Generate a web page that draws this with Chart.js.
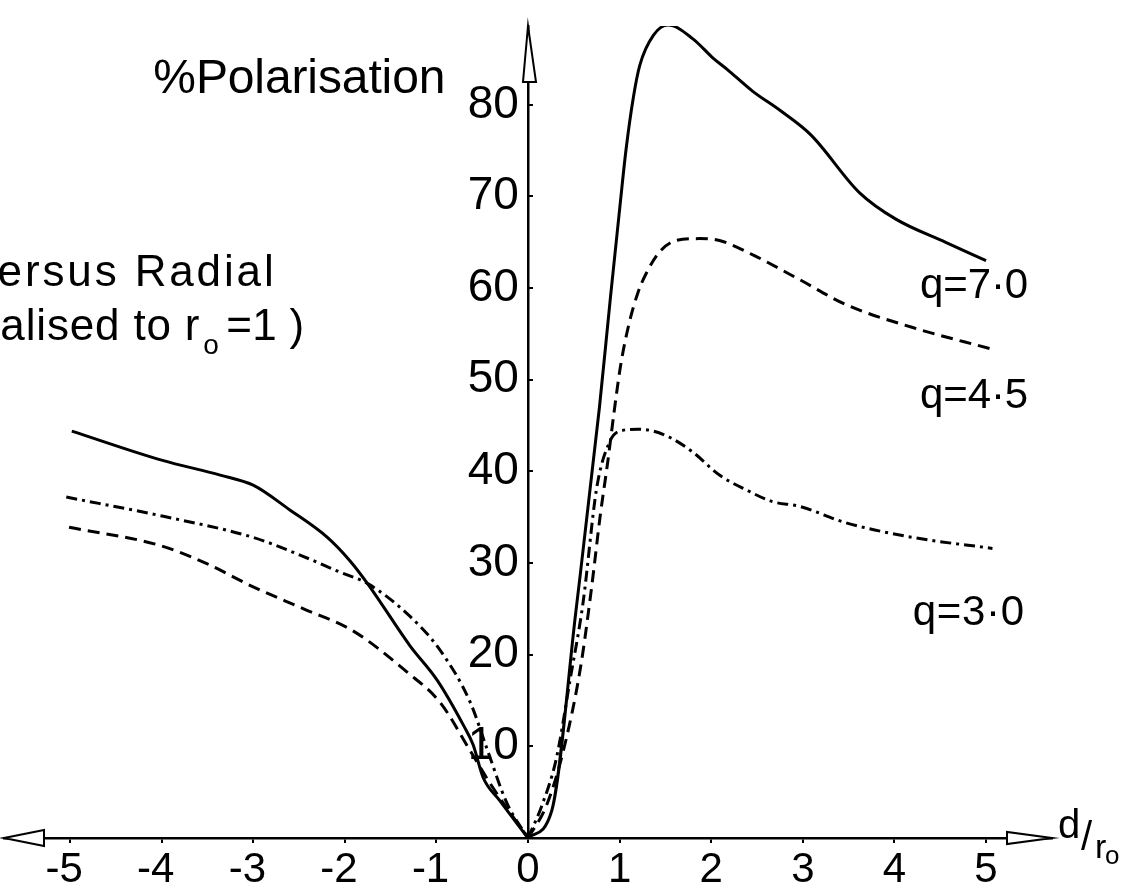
<!doctype html>
<html lang="en">
<head>
<meta charset="utf-8">
<title>% Polarisation versus radial distance</title>
<style>
  html, body { margin: 0; padding: 0; background: #fff; }
  #wrap { position: relative; width: 1137px; height: 892px; }
</style>
</head>
<body>
<div id="wrap"><canvas id="chart"></canvas></div>
<script src="https://cdn.jsdelivr.net/npm/chart.js@4.4.0/dist/chart.umd.min.js"></script>
<script>
  const FONT = '"Liberation Sans", Arial, sans-serif';

  // axis ticks
  const xTicks = [-5, -4, -3, -2, -1, 0, 1, 2, 3, 4, 5];
  const xTickLabels = ['-5', '-4', '-3', '-2', '-1', '0', '1', '2', '3', '4', '5'];
  const yTicks = [10, 20, 30, 40, 50, 60, 70, 80];
  const yTickLabels = ['10', '20', '30', '40', '50', '60', '70', '80'];

  const seriesNames = ['q=7·0', 'q=4·5', 'q=3·0'];

  // [d/r0, % polarisation]
  const q70Left = [[-4.98, 44.4], [-3.99, 41.2], [-3.36, 39.6], [-3.0, 38.5], [-2.6, 35.8], [-2.19, 32.8],
    [-1.94, 30.2], [-1.74, 27.6], [-1.29, 21.0], [-0.99, 17.2], [-0.71, 12.4], [-0.6, 10.2],
    [-0.49, 6.6], [-0.31, 4.1], [0, 0]];
  const q70Right = [[0, 0], [0.26, 3.0], [0.52, 24.5], [0.78, 47.0], [0.9, 59.0], [1.0, 68.6], [1.07, 75.1],
    [1.15, 80.8], [1.22, 84.3], [1.37, 87.6], [1.53, 88.7], [1.8, 87.2], [2.02, 85.1], [2.17, 83.9],
    [2.45, 81.5], [2.75, 79.4], [3.09, 76.7], [3.62, 70.4], [4.02, 67.5], [4.56, 65.0], [5.0, 63.0]];

  const q45Left = [[-5.01, 33.9], [-4.01, 31.9], [-3.5, 29.9], [-3.0, 27.4], [-2.45, 25.0], [-1.91, 22.6],
    [-1.32, 18.1], [-0.96, 14.8], [-0.63, 9.5], [-0.41, 5.9], [0, 0]];
  const q45Right = [[0, 0], [0.2, 3.5], [0.385, 9.5], [0.57, 18.4], [0.69, 27.0], [0.79, 35.3], [0.87, 41.0],
    [0.94, 46.5], [1.01, 51.5], [1.1, 56.0], [1.2, 59.5], [1.29, 61.6], [1.44, 64.0], [1.62, 65.2],
    [1.87, 65.4], [2.09, 65.2], [2.46, 63.6], [2.97, 60.9], [3.47, 58.2], [4.2, 55.7], [5.04, 53.4]];

  const q30Left = [[-5.04, 37.2], [-3.98, 35.1], [-3.0, 32.8], [-2.52, 31.0], [-2.05, 29.0], [-1.74, 27.7],
    [-1.29, 24.2], [-0.96, 20.5], [-0.63, 14.8], [-0.45, 9.8], [-0.23, 3.8], [0, 0]];
  const q30Right = [[0, 0], [0.15, 3.5], [0.31, 8.7], [0.46, 17.3], [0.6, 25.6], [0.75, 38.2], [0.89, 43.2],
    [1.0, 44.4], [1.2, 44.6], [1.37, 44.4], [1.55, 43.7], [1.8, 42.1], [2.09, 39.6], [2.38, 38.0],
    [2.67, 36.7], [2.96, 36.2], [3.47, 34.4], [4.2, 32.8], [5.07, 31.6]];

  const toXY = pts => pts.map(p => ({ x: p[0], y: p[1] }));

  const DASHED = [12, 7];
  const DASHDOT = [11, 5, 3, 5];

  function branch(name, pts, dash) {
    return {
      label: name,
      data: toXY(pts),
      borderColor: '#000',
      borderWidth: 3,
      borderDash: dash,
      pointRadius: 0,
      fill: false,
      cubicInterpolationMode: 'monotone'
    };
  }

  function tri(ctx, a, b, c) {
    ctx.beginPath();
    ctx.moveTo(a[0], a[1]);
    ctx.lineTo(b[0], b[1]);
    ctx.lineTo(c[0], c[1]);
    ctx.closePath();
    ctx.fill();
    ctx.stroke();
  }

  // stretch text out to a width, the lettering in the scan is widely spaced
  function spaced(ctx, text, x, y, width) {
    ctx.letterSpacing = '0px';
    const w = ctx.measureText(text).width;
    const n = [...text].length;
    const ls = n > 1 ? (width - w) / n : 0;
    ctx.letterSpacing = ls + 'px';
    ctx.fillText(text, x, y);
    ctx.letterSpacing = '0px';
  }

  const decor = {
    id: 'decor',
    afterDraw(chart) {
      const { ctx, chartArea: a, scales: { x, y } } = chart;
      const x0 = x.getPixelForValue(0), y0 = y.getPixelForValue(0);
      const px = v => x.getPixelForValue(v), py = v => y.getPixelForValue(v);
      ctx.save();
      // open arrow heads on the axes
      ctx.strokeStyle = '#000';
      ctx.fillStyle = '#fff';
      ctx.lineWidth = 2;
      tri(ctx, [x0, a.top], [x0 - 5, a.top + 56], [x0 + 8, a.top + 56]);
      tri(ctx, [a.left, y0], [a.left + 40, y0 - 8], [a.left + 40, y0 + 8]);
      tri(ctx, [a.right, y0], [a.right - 45, y0 - 6], [a.right - 45, y0 + 6]);

      ctx.fillStyle = '#000';
      ctx.textAlign = 'left';
      ctx.textBaseline = 'alphabetic';

      ctx.font = '48px ' + FONT;
      spaced(ctx, '%Polarisation', px(-4.09), py(81.3), 292);

      ctx.font = '44px ' + FONT;
      spaced(ctx, 'ersus Radial', px(-5.79), py(60.2), 279);
      const lx = px(-5.76), ly = py(54.3);
      spaced(ctx, 'alised to r', lx, ly, 200);
      ctx.font = '28px ' + FONT;
      ctx.fillText('o', lx + 203, ly + 14);
      ctx.font = '44px ' + FONT;
      spaced(ctx, '=1 )', lx + 226, ly, 78);

      ctx.font = '42px ' + FONT;
      spaced(ctx, seriesNames[0], px(4.28), py(58.9), 108);
      spaced(ctx, seriesNames[1], px(4.28), py(46.9), 108);
      spaced(ctx, seriesNames[2], px(4.2), py(23.2), 112);

      // d / r0 at the end of the x axis
      const dx = a.right + 6;
      ctx.font = '40px ' + FONT;
      ctx.fillText('d', dx, y0);
      ctx.fillText('/', dx + 23, y0 + 12);
      ctx.font = '34px ' + FONT;
      ctx.fillText('r', dx + 37, y0 + 20);
      ctx.font = '26px ' + FONT;
      ctx.fillText('o', dx + 47, y0 + 26);
      ctx.restore();
    }
  };

  new Chart(document.getElementById('chart'), {
    type: 'line',
    data: {
      datasets: [
        branch(seriesNames[0], q70Left, []),
        branch(seriesNames[0], q70Right, []),
        branch(seriesNames[1], q45Left, DASHED),
        branch(seriesNames[1], q45Right, DASHED),
        branch(seriesNames[2], q30Left, DASHDOT),
        branch(seriesNames[2], q30Right, DASHDOT)
      ]
    },
    options: {
      responsive: true,
      maintainAspectRatio: false,
      animation: false,
      layout: { padding: { left: 4, right: 85, top: 14, bottom: 0 } },
      plugins: { legend: { display: false }, tooltip: { enabled: false } },
      scales: {
        x: {
          type: 'linear',
          position: 'bottom',
          min: -5.72,
          max: 5.72,
          afterFit: s => { s.height = 54; },
          afterBuildTicks: s => { s.ticks = xTicks.map(v => ({ value: v })); },
          ticks: {
            autoSkip: false,
            maxRotation: 0,
            padding: 6,
            color: '#000',
            font: { family: FONT, size: 42, lineHeight: 1 },
            // the minus signs hang to the left of the digits in the original
            callback: v => xTickLabels[xTicks.indexOf(v)] + (v < 0 ? ' ' : '')
          },
          grid: { drawOnChartArea: false, drawTicks: true, tickLength: 5, color: '#000', lineWidth: 2 },
          border: { display: true, color: '#000', width: 2.5 }
        },
        y: {
          type: 'linear',
          position: { x: 0 },
          min: 0,
          max: 88.6,
          afterFit: s => { s.width = 0; },
          afterBuildTicks: s => { s.ticks = yTicks.map(v => ({ value: v })); },
          ticks: {
            color: '#000',
            font: { family: FONT, size: 46, lineHeight: 1 },
            callback: v => yTickLabels[yTicks.indexOf(v)] + '\u2009'
          },
          grid: { drawOnChartArea: false, drawTicks: true, tickLength: -6, color: '#000', lineWidth: 2 },
          border: { display: true, color: '#000', width: 2.5 }
        }
      }
    },
    plugins: [decor]
  });
</script>
</body>
</html>
